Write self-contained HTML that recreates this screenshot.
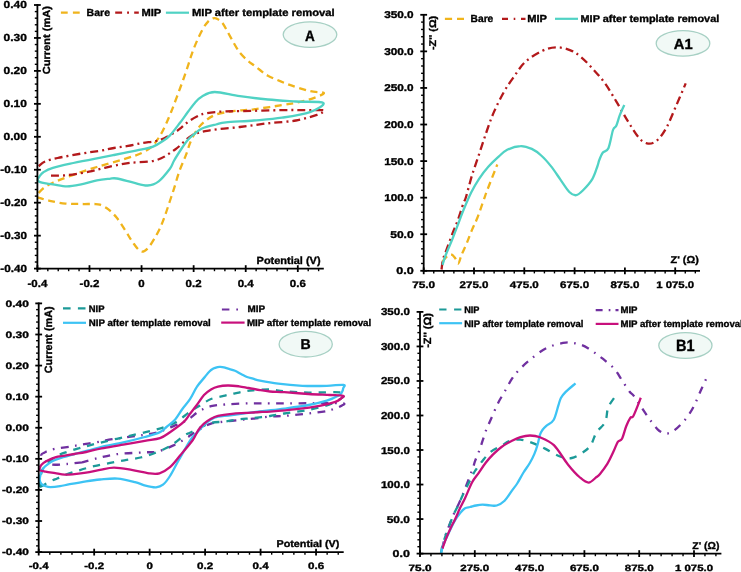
<!DOCTYPE html>
<html><head><meta charset="utf-8"><style>
html,body{margin:0;padding:0;background:#fff;width:741px;height:572px;overflow:hidden}
svg{display:block;will-change:transform;font-family:"Liberation Sans",sans-serif;font-weight:bold;fill:#000;text-rendering:geometricPrecision}
text{stroke:#000;stroke-width:0.35px}
</style></head><body>
<svg width="741" height="572" viewBox="0 0 741 572">
<path d="M38.7,193.0 C39.5,192.2 41.0,189.9 43.4,188.2 C45.8,186.5 47.9,184.9 52.9,182.7 C57.9,180.5 66.0,177.4 73.3,174.8 C80.6,172.2 88.5,169.6 96.9,167.0 C105.4,164.4 116.5,161.4 124.0,159.1 C131.5,156.8 137.2,155.2 142.0,152.9 C146.8,150.6 150.0,148.2 153.1,145.2 C156.2,142.2 158.3,138.3 160.5,134.8 C162.7,131.3 164.2,127.8 166.0,124.0 C167.8,120.2 169.4,116.3 171.2,111.8 C173.0,107.3 174.8,102.4 176.8,97.1 C178.8,91.8 181.1,85.5 183.1,80.0 C185.1,74.5 187.1,68.3 188.6,63.8 C190.1,59.3 190.8,56.7 192.2,52.8 C193.6,48.9 195.3,44.7 197.1,40.6 C198.9,36.5 201.4,31.5 203.2,28.3 C205.0,25.1 206.5,23.3 208.1,21.6 C209.7,19.9 211.4,18.7 213.0,18.3 C214.6,17.9 216.3,18.3 217.9,19.2 C219.5,20.1 221.2,21.4 222.8,23.5 C224.4,25.6 225.9,28.8 227.7,32.0 C229.5,35.2 231.8,39.5 233.8,43.0 C235.8,46.5 237.7,49.9 239.9,52.8 C242.2,55.7 245.1,58.2 247.3,60.2 C249.6,62.2 251.3,63.4 253.4,65.0 C255.5,66.6 257.6,68.2 260.0,70.0 C262.4,71.8 263.3,73.4 267.9,75.7 C272.5,78.0 280.5,81.5 287.5,84.1 C294.5,86.7 303.8,89.5 309.9,91.1 C315.9,92.6 324.7,91.8 323.8,93.4 C322.9,95.0 311.3,99.0 304.3,100.9 C297.3,102.9 290.3,103.7 281.9,105.1 C273.5,106.5 260.9,108.4 253.9,109.3 C246.9,110.2 244.0,110.0 240.0,110.4 C236.0,110.8 234.0,110.8 230.0,111.5 C226.0,112.2 220.0,113.1 216.0,114.6 C212.0,116.0 209.2,117.9 206.2,120.2 C203.2,122.5 200.4,125.1 197.8,128.6 C195.2,132.1 192.8,136.8 190.8,141.2 C188.8,145.6 187.8,150.2 185.9,155.1 C184.0,160.0 181.6,164.9 179.6,170.5 C177.6,176.1 175.7,183.3 174.1,188.4 C172.5,193.5 171.3,196.8 169.9,201.0 C168.5,205.2 167.1,209.6 165.7,213.6 C164.3,217.6 163.1,221.1 161.5,224.8 C159.9,228.5 158.2,232.1 155.9,236.0 C153.6,239.9 150.2,245.9 147.6,248.5 C145.0,251.1 143.2,252.5 140.6,251.3 C138.0,250.1 134.8,245.0 132.2,241.5 C129.6,238.0 127.8,234.2 125.2,230.3 C122.6,226.4 119.6,221.3 116.8,217.8 C114.0,214.3 111.2,211.6 108.4,209.4 C105.6,207.2 102.4,205.6 100.0,204.7 C97.6,203.8 96.9,204.1 93.8,204.0 C90.7,203.9 85.9,204.1 81.2,204.0 C76.5,203.9 70.8,204.1 65.5,203.6 C60.2,203.1 54.4,201.9 49.7,200.8 C45.0,199.8 39.5,197.9 37.5,197.3" fill="none" stroke="#F0B41C" stroke-width="2.3" stroke-dasharray="7 4.6" stroke-linejoin="round"/>
<path d="M38.7,166.2 C39.8,165.4 41.9,162.9 45.0,161.5 C48.1,160.1 51.6,159.3 57.6,158.0 C63.6,156.7 74.1,154.8 81.2,153.6 C88.3,152.4 94.5,151.7 100.0,150.8 C105.5,149.9 109.3,148.8 114.0,148.0 C118.7,147.2 123.3,146.7 128.0,145.9 C132.7,145.1 137.3,143.9 142.0,143.1 C146.7,142.3 152.3,141.8 156.0,141.0 C159.7,140.2 161.1,139.7 164.3,138.2 C167.6,136.7 172.7,133.6 175.5,131.9 C178.3,130.2 179.2,129.4 181.0,127.9 C182.8,126.4 184.0,124.9 186.6,123.0 C189.2,121.1 193.1,118.3 196.4,116.7 C199.7,115.1 201.8,114.1 206.2,113.2 C210.6,112.3 217.4,111.8 223.0,111.5 C228.6,111.2 230.2,111.3 240.0,111.1 C249.8,110.9 271.1,110.3 281.9,110.1 C292.7,109.9 298.1,110.1 305.0,110.1 C311.9,110.1 320.3,109.9 323.3,110.2 C326.3,110.5 323.7,111.3 322.8,112.0 C321.9,112.7 322.5,113.2 318.0,114.6 C313.5,116.0 304.2,119.0 295.9,120.5 C287.5,122.0 277.2,122.2 267.9,123.3 C258.6,124.4 249.2,125.9 239.9,127.0 C230.6,128.1 219.9,128.6 212.0,130.0 C204.1,131.4 198.4,132.0 192.3,135.2 C186.2,138.4 181.6,145.0 175.5,149.2 C169.4,153.4 163.8,158.0 155.9,160.3 C148.0,162.6 136.5,161.8 128.0,163.1 C119.5,164.3 111.3,166.4 104.8,167.8 C98.3,169.2 95.5,170.4 89.0,171.7 C82.5,172.9 72.4,174.7 65.5,175.3 C58.6,176.0 50.4,175.6 47.4,175.6" fill="none" stroke="#B3191B" stroke-width="2.3" stroke-dasharray="8 4 2 4" stroke-linejoin="round"/>
<path d="M39.5,176.4 C40.1,175.7 41.2,173.6 43.4,172.2 C45.6,170.8 47.9,169.3 52.9,167.8 C57.9,166.3 66.0,164.6 73.3,163.0 C80.6,161.4 90.1,159.6 96.9,158.3 C103.7,157.0 108.8,156.0 114.0,155.0 C119.2,154.0 123.3,153.1 128.0,152.2 C132.7,151.3 137.8,150.3 142.0,149.4 C146.2,148.5 149.6,148.0 153.1,146.6 C156.6,145.2 160.1,142.9 162.9,141.0 C165.7,139.1 167.2,138.4 170.0,135.4 C172.8,132.4 177.0,126.7 180.0,122.8 C183.0,118.9 185.5,115.1 188.0,111.8 C190.5,108.5 192.7,105.3 195.0,102.7 C197.3,100.1 198.7,98.2 202.0,96.4 C205.3,94.6 208.5,92.0 214.8,92.0 C221.1,92.0 231.1,95.0 239.9,96.2 C248.8,97.5 258.6,98.6 267.9,99.5 C277.2,100.4 286.7,100.9 295.9,101.5 C305.1,102.1 321.0,101.1 323.3,102.9 C325.6,104.7 316.8,109.6 309.9,112.1 C303.0,114.6 291.2,116.3 281.9,117.7 C272.6,119.1 263.2,119.7 253.9,120.5 C244.6,121.3 232.2,121.6 225.9,122.3 C219.6,123.0 220.0,123.5 216.0,124.5 C212.0,125.5 205.5,127.0 202.0,128.5 C198.5,130.0 197.3,131.6 195.0,133.5 C192.7,135.4 190.3,137.1 188.0,139.8 C185.7,142.5 183.3,146.0 181.0,149.5 C178.7,153.0 175.8,157.5 174.0,160.7 C172.2,163.9 172.5,165.3 169.9,168.7 C167.3,172.1 162.4,178.5 158.7,181.3 C155.0,184.1 151.8,185.3 147.6,185.5 C143.4,185.7 138.7,183.9 133.6,182.7 C128.5,181.5 120.8,179.2 116.8,178.5 C112.8,177.8 112.8,178.5 109.5,178.8 C106.2,179.1 101.6,179.4 96.9,180.3 C92.2,181.2 86.2,183.3 81.2,184.3 C76.2,185.3 71.7,186.3 67.0,186.3 C62.3,186.3 57.1,184.9 52.9,184.3 C48.7,183.7 44.4,183.4 41.9,182.7 C39.4,182.0 38.2,181.4 37.8,180.3 C37.4,179.2 39.2,177.1 39.5,176.4" fill="none" stroke="#50D2C4" stroke-width="2.3" stroke-linejoin="round"/>
<path d="M442.5,261.6 C443.2,260.7 445.6,257.6 447.0,256.4 C448.4,255.2 449.7,254.2 451.0,254.4 C452.3,254.6 453.7,256.2 454.9,257.7 C456.1,259.2 457.1,264.1 458.2,263.6 C459.3,263.2 460.1,258.4 461.5,255.0 C462.9,251.6 465.0,247.5 466.7,243.3 C468.4,239.2 470.1,234.3 471.9,230.1 C473.6,225.9 475.2,223.3 477.2,218.3 C479.2,213.3 482.0,204.7 483.7,200.0 C485.4,195.3 485.0,195.9 487.3,190.0 C489.6,184.1 495.6,168.8 497.3,164.5" fill="none" stroke="#F0B41C" stroke-width="2.3" stroke-dasharray="7 4.6" stroke-linejoin="round"/>
<path d="M441.5,269.5 C441.8,267.8 442.2,262.5 443.1,259.0 C444.0,255.5 445.5,252.7 447.0,248.5 C448.5,244.3 450.6,238.6 452.3,234.0 C454.1,229.4 455.6,226.1 457.5,221.0 C459.4,215.9 462.0,207.3 463.4,203.3 C464.8,199.3 464.6,201.7 466.0,197.0 C467.4,192.3 469.9,182.3 472.1,175.0 C474.4,167.7 477.1,160.3 479.5,153.0 C481.9,145.7 484.4,137.9 486.8,131.0 C489.2,124.1 491.3,117.9 494.2,111.4 C497.1,104.9 500.8,97.5 504.0,91.8 C507.2,86.1 510.2,82.0 513.7,77.1 C517.2,72.2 520.1,66.8 524.8,62.4 C529.5,58.0 536.7,53.5 541.9,51.0 C547.1,48.5 551.2,47.4 555.9,47.3 C560.6,47.1 565.7,48.5 569.9,50.1 C574.1,51.7 577.0,53.7 581.0,57.0 C585.0,60.3 589.6,65.4 593.6,69.8 C597.6,74.2 601.2,78.1 605.0,83.4 C608.8,88.7 612.6,95.3 616.4,101.6 C620.2,107.8 623.9,114.8 627.7,120.9 C631.5,127.0 635.7,134.2 639.1,138.0 C642.5,141.8 645.2,143.2 648.2,143.6 C651.2,144.0 654.3,142.8 657.3,140.2 C660.3,137.5 663.4,133.2 666.4,127.7 C669.4,122.2 672.3,114.7 675.5,107.3 C678.7,99.9 684.0,87.4 685.7,83.4" fill="none" stroke="#B3191B" stroke-width="2.3" stroke-dasharray="8 4 2 4" stroke-linejoin="round"/>
<path d="M442.5,264.9 C443.0,263.2 444.1,259.3 445.7,255.0 C447.3,250.7 450.1,244.8 452.3,239.3 C454.5,233.9 456.9,227.2 458.8,222.3 C460.7,217.4 461.4,215.0 463.5,210.0 C465.6,205.0 468.7,197.5 471.3,192.3 C473.9,187.2 476.1,183.3 478.9,179.1 C481.7,174.8 485.1,170.4 488.3,166.8 C491.5,163.2 494.7,160.2 497.8,157.4 C500.9,154.6 503.4,151.7 507.2,149.8 C511.0,147.9 516.4,146.2 520.5,146.1 C524.6,145.9 528.3,147.3 531.8,148.9 C535.2,150.5 538.1,152.7 541.2,155.5 C544.4,158.3 547.6,162.0 550.7,165.9 C553.9,169.8 557.0,174.7 560.1,179.1 C563.2,183.5 566.9,189.6 569.6,192.3 C572.3,195.0 574.0,195.5 576.2,195.2 C578.4,194.9 580.1,193.2 582.8,190.5 C585.5,187.8 589.8,183.2 592.3,179.1 C594.8,175.0 596.3,169.2 597.5,166.0 C598.7,162.8 598.4,162.2 599.3,160.0 C600.2,157.8 601.2,154.7 602.7,152.7 C604.2,150.7 606.7,152.0 608.4,148.2 C610.1,144.4 611.7,133.8 613.0,130.0 C614.3,126.2 615.3,128.0 616.4,125.5 C617.5,123.0 618.5,118.6 619.8,115.2 C621.1,111.8 623.5,106.7 624.3,105.0" fill="none" stroke="#50D2C4" stroke-width="2.3" stroke-linejoin="round"/>
<path d="M82.2,462.3 C79.6,462.6 71.9,463.6 66.8,464.0 C61.7,464.4 55.2,465.2 51.4,464.5 C47.6,463.8 45.7,461.6 44.0,460.0 C42.3,458.4 41.2,456.1 41.3,454.9 C41.4,453.6 43.7,453.1 44.7,452.5 C45.7,451.9 45.8,451.7 47.5,451.1 C49.2,450.5 51.4,449.6 55.2,448.8 C59.1,448.0 65.5,447.3 70.6,446.5 C75.7,445.7 80.8,444.7 86.0,443.8 C91.2,442.9 97.2,442.1 101.6,441.3 C106.0,440.5 106.6,440.1 112.4,439.2 C118.2,438.3 130.3,436.7 136.2,435.9 C142.1,435.1 144.0,435.0 148.0,434.3 C152.0,433.6 155.8,433.0 160.0,431.6 C164.2,430.2 168.9,428.0 173.5,426.1 C178.1,424.2 183.3,422.4 187.5,420.0 C191.7,417.6 194.5,414.0 198.4,411.7 C202.3,409.4 206.6,407.4 211.0,406.2 C215.4,405.0 219.2,405.0 225.0,404.5 C230.8,404.0 238.5,403.6 246.0,403.4 C253.5,403.2 257.7,403.4 270.0,403.4 C282.3,403.4 307.8,403.2 320.0,403.2 C332.2,403.2 339.5,402.8 343.0,403.3 C346.5,403.8 342.3,405.1 341.0,406.0 C339.7,406.9 337.4,407.7 335.0,408.5 C332.6,409.3 331.2,410.2 326.8,411.0 C322.4,411.8 315.7,412.7 308.6,413.5 C301.5,414.3 290.7,415.4 284.3,415.9 C277.9,416.4 275.2,416.1 270.0,416.6 C264.8,417.1 258.2,418.1 253.0,418.7 C247.8,419.3 243.7,419.6 239.0,420.1 C234.3,420.6 229.7,420.9 225.0,421.5 C220.3,422.1 215.0,422.4 211.0,423.6 C207.0,424.8 204.7,426.5 201.2,428.5 C197.7,430.5 192.3,434.0 190.0,435.5 C187.7,437.0 190.2,435.9 187.5,437.5 C184.8,439.1 178.5,443.1 173.5,445.4 C168.5,447.7 162.7,450.3 157.7,451.5 C152.7,452.7 150.4,452.0 143.7,452.4 C137.0,452.8 124.8,453.2 117.5,454.1 C110.2,455.0 105.9,456.2 100.0,457.6 C94.1,459.0 85.2,461.5 82.2,462.3" fill="none" stroke="#7030A0" stroke-width="2.3" stroke-dasharray="7.7 6.5 1.6 6.5" stroke-linejoin="round"/>
<path d="M39.8,487.1 C41.6,486.1 47.5,482.7 50.4,481.3 C53.3,479.9 54.8,479.5 57.2,478.5 C59.6,477.5 61.1,476.5 64.8,475.1 C68.5,473.7 74.4,471.8 79.3,470.3 C84.2,468.8 88.8,467.4 94.0,466.2 C99.2,465.0 105.0,463.9 110.2,462.9 C115.4,461.9 120.4,461.1 125.4,460.2 C130.5,459.3 135.5,458.8 140.5,457.5 C145.5,456.2 150.7,454.6 155.6,452.7 C160.5,450.8 165.3,449.0 170.0,446.2 C174.7,443.4 180.7,437.9 184.0,435.7 C187.3,433.4 187.1,434.1 190.0,432.7 C192.9,431.3 197.7,428.7 201.2,427.1 C204.7,425.5 207.0,423.8 211.0,422.9 C215.0,422.0 220.3,422.1 225.0,421.5 C229.7,420.9 234.3,420.0 239.0,419.4 C243.7,418.8 247.8,418.6 253.0,418.0 C258.2,417.4 264.8,416.8 270.0,416.0 C275.2,415.2 277.9,414.5 284.3,413.5 C290.7,412.5 300.5,411.5 308.6,409.8 C316.7,408.1 327.0,405.9 332.9,403.1 C338.8,400.3 347.9,394.8 343.8,393.0 C339.8,391.2 318.5,392.9 308.6,392.6 C298.7,392.3 290.7,391.8 284.3,391.3 C277.9,390.8 275.2,389.6 270.0,389.4 C264.8,389.2 257.4,390.0 253.3,390.3 C249.2,390.6 247.8,390.8 245.4,391.2 C243.0,391.6 241.2,392.1 238.9,392.6 C236.6,393.1 233.6,393.6 231.3,394.1 C229.0,394.6 228.4,394.8 225.0,395.6 C221.6,396.4 215.0,397.5 211.0,399.0 C207.0,400.5 204.7,402.7 201.2,404.8 C197.7,406.9 194.6,408.6 190.0,411.7 C185.4,414.8 179.8,420.4 173.5,423.5 C167.2,426.6 160.4,428.3 152.5,430.5 C144.6,432.7 134.9,434.6 126.2,436.6 C117.5,438.6 106.7,441.1 100.0,442.7 C93.3,444.3 89.5,445.4 86.0,446.3 C82.5,447.2 82.5,447.2 79.3,448.2 C76.1,449.1 70.8,450.6 66.8,452.0 C62.8,453.4 58.9,454.5 55.2,456.8 C51.5,459.1 46.9,463.5 44.7,466.0 C42.5,468.5 42.6,469.4 41.8,471.7 C41.0,474.0 40.3,477.4 40.0,480.0 C39.7,482.6 39.8,485.9 39.8,487.1" fill="none" stroke="#1C9A98" stroke-width="2.3" stroke-dasharray="7.3 7" stroke-linejoin="round"/>
<path d="M41.3,472.7 C41.7,471.9 42.7,469.3 43.7,467.9 C44.7,466.5 45.9,465.7 47.5,464.5 C49.1,463.3 51.0,461.8 53.3,460.7 C55.5,459.6 58.1,458.7 61.0,457.8 C63.9,456.9 67.4,456.1 70.6,455.2 C73.8,454.3 76.8,453.4 80.0,452.5 C83.2,451.6 86.4,450.9 90.0,450.0 C93.6,449.1 96.1,448.2 101.6,446.9 C107.1,445.6 116.0,444.0 123.2,442.4 C130.4,440.8 138.7,438.7 144.8,437.0 C150.9,435.3 156.4,433.8 160.0,432.1 C163.6,430.4 164.0,429.1 166.5,427.0 C169.0,424.9 172.5,422.5 175.2,419.5 C177.8,416.5 179.9,412.4 182.4,409.0 C184.9,405.6 187.6,402.9 190.0,399.2 C192.4,395.5 194.5,390.3 197.0,386.6 C199.5,382.9 203.0,379.3 205.0,376.8 C207.0,374.3 207.8,373.1 209.2,371.7 C210.6,370.3 212.0,369.4 213.4,368.6 C214.8,367.8 216.4,367.4 217.6,367.1 C218.8,366.8 219.4,366.9 220.5,366.9 C221.6,366.9 222.6,367.0 223.9,367.3 C225.2,367.6 226.2,368.0 228.1,368.6 C229.9,369.2 232.8,369.9 235.0,370.8 C237.2,371.7 239.0,373.0 241.0,374.0 C243.0,375.0 245.0,376.2 247.0,377.0 C249.0,377.8 250.8,378.1 253.0,378.7 C255.2,379.3 255.8,379.9 260.0,380.7 C264.2,381.5 271.1,382.8 278.2,383.7 C285.3,384.6 294.4,385.4 302.5,385.8 C310.6,386.2 320.0,386.0 326.8,385.8 C333.6,385.6 340.8,384.5 343.5,384.9 C346.2,385.3 343.6,386.8 343.3,388.0 C343.1,389.2 342.7,390.8 342.0,392.0 C341.3,393.2 341.5,393.8 339.0,395.2 C336.5,396.6 331.9,399.1 326.8,400.7 C321.7,402.3 315.7,403.7 308.6,405.0 C301.5,406.3 292.4,407.5 284.3,408.6 C276.2,409.7 268.7,410.4 260.0,411.5 C251.3,412.6 239.0,414.1 232.0,415.0 C225.0,415.9 221.5,415.9 218.0,416.6 C214.5,417.3 213.3,418.0 211.0,419.4 C208.7,420.8 206.3,422.8 204.0,425.0 C201.7,427.2 199.2,430.3 197.0,432.7 C194.8,435.1 194.1,434.6 191.0,439.2 C187.9,443.8 182.2,454.1 178.7,460.2 C175.2,466.3 172.6,471.9 170.0,476.0 C167.4,480.1 165.3,482.8 163.0,484.7 C160.7,486.6 158.9,487.1 156.0,487.3 C153.1,487.5 149.0,486.5 145.5,485.6 C142.0,484.7 139.7,483.3 135.0,482.1 C130.3,480.9 123.3,479.0 117.5,478.6 C111.7,478.2 105.2,479.1 100.0,479.5 C94.8,479.9 91.0,480.5 86.0,481.3 C81.0,482.1 74.0,483.4 69.7,484.2 C65.4,485.0 63.2,485.7 60.0,486.2 C56.8,486.7 52.8,487.1 50.4,487.1 C48.0,487.1 47.0,486.7 45.6,486.2 C44.2,485.7 42.8,485.2 41.8,484.2 C40.8,483.2 40.0,481.8 39.8,480.4 C39.5,479.0 40.0,476.9 40.3,475.6 C40.5,474.3 41.1,473.2 41.3,472.7" fill="none" stroke="#3DC3F4" stroke-width="2.3" stroke-linejoin="round"/>
<path d="M39.8,467.9 C40.0,467.4 40.3,466.1 41.3,465.0 C42.3,463.9 43.3,462.9 45.6,461.6 C47.9,460.3 52.0,458.3 55.2,457.3 C58.4,456.3 61.6,456.2 64.8,455.6 C68.0,455.1 71.0,454.6 74.5,454.0 C78.0,453.4 81.5,452.9 86.0,452.0 C90.5,451.1 95.4,449.5 101.6,448.3 C107.8,447.1 116.0,445.9 123.2,444.6 C130.4,443.4 138.7,441.9 144.8,440.8 C150.9,439.7 155.8,439.5 160.0,438.1 C164.2,436.7 166.0,434.9 170.0,432.2 C174.0,429.5 180.7,424.8 184.0,421.7 C187.3,418.6 187.8,416.6 190.0,413.8 C192.2,411.0 194.7,407.9 197.0,404.8 C199.3,401.7 201.7,397.6 204.0,395.0 C206.3,392.4 208.7,390.8 211.0,389.4 C213.3,388.0 215.2,387.2 218.0,386.6 C220.8,386.0 224.3,385.6 227.8,385.5 C231.3,385.4 235.5,385.9 239.0,386.3 C242.5,386.7 245.2,387.4 248.7,388.0 C252.2,388.6 256.4,389.5 260.0,390.1 C263.6,390.7 265.9,391.1 270.0,391.5 C274.1,391.9 277.9,391.8 284.3,392.2 C290.7,392.6 301.0,393.5 308.6,394.0 C316.2,394.5 324.3,394.7 330.0,395.0 C335.7,395.3 341.1,395.3 343.0,395.8 C344.9,396.3 342.8,397.2 341.5,398.2 C340.2,399.2 338.8,400.7 335.3,401.9 C331.9,403.1 327.3,404.4 320.8,405.6 C314.3,406.8 305.0,408.2 296.5,409.2 C288.0,410.2 276.1,411.2 270.0,411.7 C263.9,412.2 264.0,411.8 260.0,412.0 C256.0,412.2 250.7,412.6 246.0,412.9 C241.3,413.2 236.7,413.3 232.0,413.8 C227.3,414.3 221.5,415.1 218.0,415.9 C214.5,416.7 213.3,417.4 211.0,418.7 C208.7,420.0 206.1,421.7 204.0,423.6 C201.9,425.5 200.3,427.3 198.4,430.0 C196.5,432.7 195.8,435.8 192.8,440.0 C189.8,444.2 184.3,450.5 180.5,455.0 C176.7,459.5 173.5,464.1 170.0,467.2 C166.5,470.2 163.0,472.3 159.5,473.3 C156.0,474.3 153.7,473.9 149.0,473.3 C144.3,472.7 137.3,470.8 131.5,469.9 C125.7,468.9 119.2,467.6 114.0,467.6 C108.8,467.6 104.7,469.0 100.0,469.9 C95.3,470.8 90.2,472.0 86.0,472.7 C81.8,473.4 78.0,473.8 74.5,474.1 C71.0,474.4 68.0,474.8 64.8,474.6 C61.6,474.5 58.4,473.7 55.2,473.2 C52.0,472.7 48.2,472.2 45.6,471.7 C43.0,471.2 40.8,470.9 39.8,470.3 C38.8,469.7 39.8,468.3 39.8,467.9" fill="none" stroke="#C8107C" stroke-width="2.3" stroke-linejoin="round"/>
<path d="M442.0,549.0 C442.5,547.0 443.8,541.0 445.0,537.0 C446.2,533.0 447.9,528.8 449.4,525.0 C450.9,521.2 452.3,517.3 453.8,514.0 C455.3,510.7 456.7,508.2 458.2,505.0 C459.7,501.8 460.3,500.8 462.6,495.0 C464.9,489.2 470.0,475.8 472.1,470.1 C474.2,464.4 474.0,464.0 475.2,460.7 C476.4,457.4 478.2,453.5 479.4,450.2 C480.6,446.9 481.6,443.9 482.6,440.7 C483.7,437.5 484.3,434.8 485.7,431.2 C487.1,427.6 488.9,423.7 491.0,419.0 C493.1,414.3 495.7,407.9 498.0,403.2 C500.3,398.5 502.7,395.1 505.0,391.0 C507.3,386.9 509.8,382.1 512.0,378.7 C514.2,375.3 515.2,373.9 518.1,370.9 C521.0,367.8 524.6,364.2 529.3,360.4 C534.0,356.6 540.2,351.2 546.3,348.2 C552.4,345.2 560.0,343.2 565.7,342.6 C571.4,342.0 576.2,343.5 580.3,344.6 C584.3,345.7 587.1,347.7 590.0,349.4 C592.9,351.1 595.1,353.1 597.6,355.0 C600.1,356.9 602.3,358.2 605.1,360.6 C607.9,363.0 611.8,365.8 614.6,369.1 C617.4,372.4 619.6,376.7 622.1,380.5 C624.6,384.3 627.6,389.1 629.7,391.8 C631.8,394.5 631.6,392.8 634.5,396.8 C637.4,400.8 643.2,410.3 647.1,415.7 C651.0,421.1 654.5,426.3 657.6,429.3 C660.8,432.3 663.2,433.3 666.0,433.5 C668.8,433.7 671.2,432.6 674.4,430.3 C677.5,428.0 681.8,423.7 684.9,419.9 C688.0,416.1 690.5,412.6 693.3,407.3 C696.1,402.1 699.2,393.8 701.7,388.4 C704.2,383.0 707.0,377.1 708.1,374.8" fill="none" stroke="#7030A0" stroke-width="2.3" stroke-dasharray="7.7 6.5 1.6 6.5" stroke-linejoin="round"/>
<path d="M440.9,553.5 C441.2,552.1 441.8,547.8 442.5,545.0 C443.2,542.2 444.0,540.3 445.2,536.9 C446.4,533.5 448.1,528.6 449.6,524.7 C451.1,520.8 452.5,517.0 454.0,513.7 C455.5,510.4 456.9,508.0 458.4,504.9 C459.9,501.8 460.4,500.1 462.8,495.0 C465.2,489.9 470.9,478.6 473.1,474.3 C475.4,470.0 474.7,471.4 476.3,469.1 C477.9,466.8 480.2,463.6 482.6,460.7 C485.0,457.8 487.4,454.5 490.5,452.0 C493.6,449.5 498.4,447.5 501.5,445.7 C504.6,443.9 506.2,442.2 509.3,441.2 C512.4,440.2 516.4,439.3 520.3,439.6 C524.2,439.9 528.7,441.6 532.9,443.2 C537.1,444.8 541.0,446.7 545.5,448.9 C550.0,451.1 555.6,455.0 560.0,456.5 C564.4,458.0 567.8,458.8 571.8,458.0 C575.8,457.2 580.9,453.7 584.1,451.5 C587.3,449.3 588.9,447.9 591.0,444.7 C593.1,441.5 594.1,436.1 596.5,432.3 C598.9,428.5 603.2,426.2 605.2,422.0 C607.2,417.8 606.5,411.7 608.3,407.3 C610.0,402.9 614.5,397.6 615.7,395.7" fill="none" stroke="#1C9A98" stroke-width="2.3" stroke-dasharray="7.3 7" stroke-linejoin="round"/>
<path d="M441.2,553.4 C441.5,552.1 441.8,549.0 443.0,545.7 C444.2,542.4 446.5,537.7 448.5,533.5 C450.5,529.3 453.1,523.8 455.1,520.3 C457.1,516.8 459.0,514.6 460.6,512.6 C462.2,510.6 463.4,509.1 465.0,508.2 C466.6,507.3 468.2,507.4 470.0,507.0 C471.8,506.6 473.9,505.9 476.0,505.5 C478.1,505.1 480.3,504.7 482.6,504.7 C484.9,504.7 487.6,505.2 490.0,505.3 C492.4,505.4 494.3,506.2 496.7,505.5 C499.1,504.8 502.0,503.4 504.6,500.8 C507.2,498.2 510.4,492.7 512.5,489.8 C514.6,486.9 515.4,486.4 517.2,483.5 C519.0,480.6 521.4,475.9 523.5,472.5 C525.6,469.1 528.0,466.1 529.8,463.0 C531.6,459.9 533.2,456.7 534.5,453.6 C535.8,450.5 536.8,447.4 537.7,444.2 C538.6,441.0 539.2,437.1 540.0,434.7 C540.8,432.3 541.4,431.5 542.4,430.0 C543.4,428.5 544.4,427.6 546.3,425.9 C548.2,424.2 551.6,423.4 553.6,420.0 C555.6,416.6 557.2,409.0 558.4,405.3 C559.6,401.6 559.7,400.2 560.9,398.0 C562.1,395.8 563.3,394.3 565.7,391.9 C568.1,389.5 573.9,384.8 575.5,383.4" fill="none" stroke="#3DC3F4" stroke-width="2.3" stroke-linejoin="round"/>
<path d="M442.4,548.5 C443.0,546.8 444.9,541.4 446.3,538.0 C447.7,534.6 449.2,531.1 450.7,528.0 C452.2,524.9 453.6,522.3 455.1,519.2 C456.6,516.1 457.9,512.8 459.5,509.3 C461.1,505.8 462.9,502.8 465.0,498.3 C467.1,493.8 469.8,486.7 472.0,482.5 C474.2,478.3 476.1,476.6 478.4,473.3 C480.7,470.0 483.2,466.0 485.7,462.8 C488.1,459.6 490.5,457.0 493.1,454.4 C495.7,451.8 498.4,449.3 501.5,447.0 C504.6,444.7 508.9,442.3 512.0,440.7 C515.1,439.1 517.4,438.0 520.4,437.1 C523.4,436.2 526.7,435.5 530.0,435.5 C533.3,435.5 536.0,435.7 540.0,437.3 C544.0,438.9 549.2,440.7 553.9,445.2 C558.5,449.7 563.5,459.0 567.9,464.4 C572.2,469.8 576.5,474.5 580.0,477.5 C583.5,480.5 585.9,482.7 588.6,482.6 C591.4,482.5 594.6,478.4 596.5,477.0 C598.4,475.6 598.2,476.1 600.0,473.9 C601.8,471.7 605.0,467.7 607.3,463.9 C609.6,460.1 611.9,455.0 613.6,451.3 C615.4,447.6 616.4,444.0 617.8,441.9 C619.2,439.8 620.6,441.3 622.0,438.7 C623.4,436.1 624.8,429.7 626.2,426.2 C627.6,422.7 629.1,419.6 630.3,417.8 C631.5,416.1 631.8,419.0 633.5,415.7 C635.2,412.4 639.6,400.8 640.8,397.8" fill="none" stroke="#C8107C" stroke-width="2.3" stroke-linejoin="round"/>
<line x1="37.40" y1="4.10" x2="37.40" y2="269.50" stroke="#000" stroke-width="1.8" stroke-linecap="butt"/>
<line x1="34.00" y1="5.00" x2="40.80" y2="5.00" stroke="#000" stroke-width="1.8" stroke-linecap="butt"/>
<line x1="34.80" y1="11.59" x2="37.40" y2="11.59" stroke="#000" stroke-width="1.4" stroke-linecap="butt"/>
<line x1="34.80" y1="18.18" x2="37.40" y2="18.18" stroke="#000" stroke-width="1.4" stroke-linecap="butt"/>
<line x1="34.80" y1="24.77" x2="37.40" y2="24.77" stroke="#000" stroke-width="1.4" stroke-linecap="butt"/>
<line x1="34.80" y1="31.36" x2="37.40" y2="31.36" stroke="#000" stroke-width="1.4" stroke-linecap="butt"/>
<line x1="34.00" y1="37.95" x2="40.80" y2="37.95" stroke="#000" stroke-width="1.8" stroke-linecap="butt"/>
<line x1="34.80" y1="44.54" x2="37.40" y2="44.54" stroke="#000" stroke-width="1.4" stroke-linecap="butt"/>
<line x1="34.80" y1="51.13" x2="37.40" y2="51.13" stroke="#000" stroke-width="1.4" stroke-linecap="butt"/>
<line x1="34.80" y1="57.72" x2="37.40" y2="57.72" stroke="#000" stroke-width="1.4" stroke-linecap="butt"/>
<line x1="34.80" y1="64.31" x2="37.40" y2="64.31" stroke="#000" stroke-width="1.4" stroke-linecap="butt"/>
<line x1="34.00" y1="70.90" x2="40.80" y2="70.90" stroke="#000" stroke-width="1.8" stroke-linecap="butt"/>
<line x1="34.80" y1="77.49" x2="37.40" y2="77.49" stroke="#000" stroke-width="1.4" stroke-linecap="butt"/>
<line x1="34.80" y1="84.08" x2="37.40" y2="84.08" stroke="#000" stroke-width="1.4" stroke-linecap="butt"/>
<line x1="34.80" y1="90.67" x2="37.40" y2="90.67" stroke="#000" stroke-width="1.4" stroke-linecap="butt"/>
<line x1="34.80" y1="97.26" x2="37.40" y2="97.26" stroke="#000" stroke-width="1.4" stroke-linecap="butt"/>
<line x1="34.00" y1="103.85" x2="40.80" y2="103.85" stroke="#000" stroke-width="1.8" stroke-linecap="butt"/>
<line x1="34.80" y1="110.44" x2="37.40" y2="110.44" stroke="#000" stroke-width="1.4" stroke-linecap="butt"/>
<line x1="34.80" y1="117.03" x2="37.40" y2="117.03" stroke="#000" stroke-width="1.4" stroke-linecap="butt"/>
<line x1="34.80" y1="123.62" x2="37.40" y2="123.62" stroke="#000" stroke-width="1.4" stroke-linecap="butt"/>
<line x1="34.80" y1="130.21" x2="37.40" y2="130.21" stroke="#000" stroke-width="1.4" stroke-linecap="butt"/>
<line x1="34.00" y1="136.80" x2="40.80" y2="136.80" stroke="#000" stroke-width="1.8" stroke-linecap="butt"/>
<line x1="34.80" y1="143.39" x2="37.40" y2="143.39" stroke="#000" stroke-width="1.4" stroke-linecap="butt"/>
<line x1="34.80" y1="149.98" x2="37.40" y2="149.98" stroke="#000" stroke-width="1.4" stroke-linecap="butt"/>
<line x1="34.80" y1="156.57" x2="37.40" y2="156.57" stroke="#000" stroke-width="1.4" stroke-linecap="butt"/>
<line x1="34.80" y1="163.16" x2="37.40" y2="163.16" stroke="#000" stroke-width="1.4" stroke-linecap="butt"/>
<line x1="34.00" y1="169.75" x2="40.80" y2="169.75" stroke="#000" stroke-width="1.8" stroke-linecap="butt"/>
<line x1="34.80" y1="176.34" x2="37.40" y2="176.34" stroke="#000" stroke-width="1.4" stroke-linecap="butt"/>
<line x1="34.80" y1="182.93" x2="37.40" y2="182.93" stroke="#000" stroke-width="1.4" stroke-linecap="butt"/>
<line x1="34.80" y1="189.52" x2="37.40" y2="189.52" stroke="#000" stroke-width="1.4" stroke-linecap="butt"/>
<line x1="34.80" y1="196.11" x2="37.40" y2="196.11" stroke="#000" stroke-width="1.4" stroke-linecap="butt"/>
<line x1="34.00" y1="202.70" x2="40.80" y2="202.70" stroke="#000" stroke-width="1.8" stroke-linecap="butt"/>
<line x1="34.80" y1="209.29" x2="37.40" y2="209.29" stroke="#000" stroke-width="1.4" stroke-linecap="butt"/>
<line x1="34.80" y1="215.88" x2="37.40" y2="215.88" stroke="#000" stroke-width="1.4" stroke-linecap="butt"/>
<line x1="34.80" y1="222.47" x2="37.40" y2="222.47" stroke="#000" stroke-width="1.4" stroke-linecap="butt"/>
<line x1="34.80" y1="229.06" x2="37.40" y2="229.06" stroke="#000" stroke-width="1.4" stroke-linecap="butt"/>
<line x1="34.00" y1="235.65" x2="40.80" y2="235.65" stroke="#000" stroke-width="1.8" stroke-linecap="butt"/>
<line x1="34.80" y1="242.24" x2="37.40" y2="242.24" stroke="#000" stroke-width="1.4" stroke-linecap="butt"/>
<line x1="34.80" y1="248.83" x2="37.40" y2="248.83" stroke="#000" stroke-width="1.4" stroke-linecap="butt"/>
<line x1="34.80" y1="255.42" x2="37.40" y2="255.42" stroke="#000" stroke-width="1.4" stroke-linecap="butt"/>
<line x1="34.80" y1="262.01" x2="37.40" y2="262.01" stroke="#000" stroke-width="1.4" stroke-linecap="butt"/>
<line x1="34.00" y1="268.60" x2="40.80" y2="268.60" stroke="#000" stroke-width="1.8" stroke-linecap="butt"/>
<line x1="36.50" y1="268.60" x2="323.80" y2="268.60" stroke="#000" stroke-width="1.8" stroke-linecap="butt"/>
<line x1="37.40" y1="265.20" x2="37.40" y2="272.00" stroke="#000" stroke-width="1.8" stroke-linecap="butt"/>
<line x1="47.82" y1="268.60" x2="47.82" y2="271.20" stroke="#000" stroke-width="1.4" stroke-linecap="butt"/>
<line x1="58.23" y1="268.60" x2="58.23" y2="271.20" stroke="#000" stroke-width="1.4" stroke-linecap="butt"/>
<line x1="68.65" y1="268.60" x2="68.65" y2="271.20" stroke="#000" stroke-width="1.4" stroke-linecap="butt"/>
<line x1="79.06" y1="268.60" x2="79.06" y2="271.20" stroke="#000" stroke-width="1.4" stroke-linecap="butt"/>
<line x1="89.48" y1="265.20" x2="89.48" y2="272.00" stroke="#000" stroke-width="1.8" stroke-linecap="butt"/>
<line x1="99.90" y1="268.60" x2="99.90" y2="271.20" stroke="#000" stroke-width="1.4" stroke-linecap="butt"/>
<line x1="110.31" y1="268.60" x2="110.31" y2="271.20" stroke="#000" stroke-width="1.4" stroke-linecap="butt"/>
<line x1="120.73" y1="268.60" x2="120.73" y2="271.20" stroke="#000" stroke-width="1.4" stroke-linecap="butt"/>
<line x1="131.14" y1="268.60" x2="131.14" y2="271.20" stroke="#000" stroke-width="1.4" stroke-linecap="butt"/>
<line x1="141.56" y1="265.20" x2="141.56" y2="272.00" stroke="#000" stroke-width="1.8" stroke-linecap="butt"/>
<line x1="151.98" y1="268.60" x2="151.98" y2="271.20" stroke="#000" stroke-width="1.4" stroke-linecap="butt"/>
<line x1="162.39" y1="268.60" x2="162.39" y2="271.20" stroke="#000" stroke-width="1.4" stroke-linecap="butt"/>
<line x1="172.81" y1="268.60" x2="172.81" y2="271.20" stroke="#000" stroke-width="1.4" stroke-linecap="butt"/>
<line x1="183.22" y1="268.60" x2="183.22" y2="271.20" stroke="#000" stroke-width="1.4" stroke-linecap="butt"/>
<line x1="193.64" y1="265.20" x2="193.64" y2="272.00" stroke="#000" stroke-width="1.8" stroke-linecap="butt"/>
<line x1="204.06" y1="268.60" x2="204.06" y2="271.20" stroke="#000" stroke-width="1.4" stroke-linecap="butt"/>
<line x1="214.47" y1="268.60" x2="214.47" y2="271.20" stroke="#000" stroke-width="1.4" stroke-linecap="butt"/>
<line x1="224.89" y1="268.60" x2="224.89" y2="271.20" stroke="#000" stroke-width="1.4" stroke-linecap="butt"/>
<line x1="235.30" y1="268.60" x2="235.30" y2="271.20" stroke="#000" stroke-width="1.4" stroke-linecap="butt"/>
<line x1="245.72" y1="265.20" x2="245.72" y2="272.00" stroke="#000" stroke-width="1.8" stroke-linecap="butt"/>
<line x1="256.14" y1="268.60" x2="256.14" y2="271.20" stroke="#000" stroke-width="1.4" stroke-linecap="butt"/>
<line x1="266.55" y1="268.60" x2="266.55" y2="271.20" stroke="#000" stroke-width="1.4" stroke-linecap="butt"/>
<line x1="276.97" y1="268.60" x2="276.97" y2="271.20" stroke="#000" stroke-width="1.4" stroke-linecap="butt"/>
<line x1="287.38" y1="268.60" x2="287.38" y2="271.20" stroke="#000" stroke-width="1.4" stroke-linecap="butt"/>
<line x1="297.80" y1="265.20" x2="297.80" y2="272.00" stroke="#000" stroke-width="1.8" stroke-linecap="butt"/>
<line x1="308.22" y1="268.60" x2="308.22" y2="271.20" stroke="#000" stroke-width="1.4" stroke-linecap="butt"/>
<line x1="318.63" y1="268.60" x2="318.63" y2="271.20" stroke="#000" stroke-width="1.4" stroke-linecap="butt"/>
<line x1="423.70" y1="13.90" x2="423.70" y2="271.70" stroke="#000" stroke-width="1.8" stroke-linecap="butt"/>
<line x1="420.30" y1="14.80" x2="427.10" y2="14.80" stroke="#000" stroke-width="1.8" stroke-linecap="butt"/>
<line x1="421.10" y1="22.11" x2="423.70" y2="22.11" stroke="#000" stroke-width="1.4" stroke-linecap="butt"/>
<line x1="421.10" y1="29.43" x2="423.70" y2="29.43" stroke="#000" stroke-width="1.4" stroke-linecap="butt"/>
<line x1="421.10" y1="36.74" x2="423.70" y2="36.74" stroke="#000" stroke-width="1.4" stroke-linecap="butt"/>
<line x1="421.10" y1="44.06" x2="423.70" y2="44.06" stroke="#000" stroke-width="1.4" stroke-linecap="butt"/>
<line x1="420.30" y1="51.37" x2="427.10" y2="51.37" stroke="#000" stroke-width="1.8" stroke-linecap="butt"/>
<line x1="421.10" y1="58.69" x2="423.70" y2="58.69" stroke="#000" stroke-width="1.4" stroke-linecap="butt"/>
<line x1="421.10" y1="66.00" x2="423.70" y2="66.00" stroke="#000" stroke-width="1.4" stroke-linecap="butt"/>
<line x1="421.10" y1="73.31" x2="423.70" y2="73.31" stroke="#000" stroke-width="1.4" stroke-linecap="butt"/>
<line x1="421.10" y1="80.63" x2="423.70" y2="80.63" stroke="#000" stroke-width="1.4" stroke-linecap="butt"/>
<line x1="420.30" y1="87.94" x2="427.10" y2="87.94" stroke="#000" stroke-width="1.8" stroke-linecap="butt"/>
<line x1="421.10" y1="95.26" x2="423.70" y2="95.26" stroke="#000" stroke-width="1.4" stroke-linecap="butt"/>
<line x1="421.10" y1="102.57" x2="423.70" y2="102.57" stroke="#000" stroke-width="1.4" stroke-linecap="butt"/>
<line x1="421.10" y1="109.89" x2="423.70" y2="109.89" stroke="#000" stroke-width="1.4" stroke-linecap="butt"/>
<line x1="421.10" y1="117.20" x2="423.70" y2="117.20" stroke="#000" stroke-width="1.4" stroke-linecap="butt"/>
<line x1="420.30" y1="124.51" x2="427.10" y2="124.51" stroke="#000" stroke-width="1.8" stroke-linecap="butt"/>
<line x1="421.10" y1="131.83" x2="423.70" y2="131.83" stroke="#000" stroke-width="1.4" stroke-linecap="butt"/>
<line x1="421.10" y1="139.14" x2="423.70" y2="139.14" stroke="#000" stroke-width="1.4" stroke-linecap="butt"/>
<line x1="421.10" y1="146.46" x2="423.70" y2="146.46" stroke="#000" stroke-width="1.4" stroke-linecap="butt"/>
<line x1="421.10" y1="153.77" x2="423.70" y2="153.77" stroke="#000" stroke-width="1.4" stroke-linecap="butt"/>
<line x1="420.30" y1="161.09" x2="427.10" y2="161.09" stroke="#000" stroke-width="1.8" stroke-linecap="butt"/>
<line x1="421.10" y1="168.40" x2="423.70" y2="168.40" stroke="#000" stroke-width="1.4" stroke-linecap="butt"/>
<line x1="421.10" y1="175.71" x2="423.70" y2="175.71" stroke="#000" stroke-width="1.4" stroke-linecap="butt"/>
<line x1="421.10" y1="183.03" x2="423.70" y2="183.03" stroke="#000" stroke-width="1.4" stroke-linecap="butt"/>
<line x1="421.10" y1="190.34" x2="423.70" y2="190.34" stroke="#000" stroke-width="1.4" stroke-linecap="butt"/>
<line x1="420.30" y1="197.66" x2="427.10" y2="197.66" stroke="#000" stroke-width="1.8" stroke-linecap="butt"/>
<line x1="421.10" y1="204.97" x2="423.70" y2="204.97" stroke="#000" stroke-width="1.4" stroke-linecap="butt"/>
<line x1="421.10" y1="212.29" x2="423.70" y2="212.29" stroke="#000" stroke-width="1.4" stroke-linecap="butt"/>
<line x1="421.10" y1="219.60" x2="423.70" y2="219.60" stroke="#000" stroke-width="1.4" stroke-linecap="butt"/>
<line x1="421.10" y1="226.91" x2="423.70" y2="226.91" stroke="#000" stroke-width="1.4" stroke-linecap="butt"/>
<line x1="420.30" y1="234.23" x2="427.10" y2="234.23" stroke="#000" stroke-width="1.8" stroke-linecap="butt"/>
<line x1="421.10" y1="241.54" x2="423.70" y2="241.54" stroke="#000" stroke-width="1.4" stroke-linecap="butt"/>
<line x1="421.10" y1="248.86" x2="423.70" y2="248.86" stroke="#000" stroke-width="1.4" stroke-linecap="butt"/>
<line x1="421.10" y1="256.17" x2="423.70" y2="256.17" stroke="#000" stroke-width="1.4" stroke-linecap="butt"/>
<line x1="421.10" y1="263.49" x2="423.70" y2="263.49" stroke="#000" stroke-width="1.4" stroke-linecap="butt"/>
<line x1="420.30" y1="270.80" x2="427.10" y2="270.80" stroke="#000" stroke-width="1.8" stroke-linecap="butt"/>
<line x1="422.80" y1="270.80" x2="700.00" y2="270.80" stroke="#000" stroke-width="1.8" stroke-linecap="butt"/>
<line x1="423.70" y1="267.40" x2="423.70" y2="274.20" stroke="#000" stroke-width="1.8" stroke-linecap="butt"/>
<line x1="433.76" y1="270.80" x2="433.76" y2="273.40" stroke="#000" stroke-width="1.4" stroke-linecap="butt"/>
<line x1="443.82" y1="270.80" x2="443.82" y2="273.40" stroke="#000" stroke-width="1.4" stroke-linecap="butt"/>
<line x1="453.88" y1="270.80" x2="453.88" y2="273.40" stroke="#000" stroke-width="1.4" stroke-linecap="butt"/>
<line x1="463.94" y1="270.80" x2="463.94" y2="273.40" stroke="#000" stroke-width="1.4" stroke-linecap="butt"/>
<line x1="474.00" y1="267.40" x2="474.00" y2="274.20" stroke="#000" stroke-width="1.8" stroke-linecap="butt"/>
<line x1="484.06" y1="270.80" x2="484.06" y2="273.40" stroke="#000" stroke-width="1.4" stroke-linecap="butt"/>
<line x1="494.12" y1="270.80" x2="494.12" y2="273.40" stroke="#000" stroke-width="1.4" stroke-linecap="butt"/>
<line x1="504.18" y1="270.80" x2="504.18" y2="273.40" stroke="#000" stroke-width="1.4" stroke-linecap="butt"/>
<line x1="514.24" y1="270.80" x2="514.24" y2="273.40" stroke="#000" stroke-width="1.4" stroke-linecap="butt"/>
<line x1="524.30" y1="267.40" x2="524.30" y2="274.20" stroke="#000" stroke-width="1.8" stroke-linecap="butt"/>
<line x1="534.36" y1="270.80" x2="534.36" y2="273.40" stroke="#000" stroke-width="1.4" stroke-linecap="butt"/>
<line x1="544.42" y1="270.80" x2="544.42" y2="273.40" stroke="#000" stroke-width="1.4" stroke-linecap="butt"/>
<line x1="554.48" y1="270.80" x2="554.48" y2="273.40" stroke="#000" stroke-width="1.4" stroke-linecap="butt"/>
<line x1="564.54" y1="270.80" x2="564.54" y2="273.40" stroke="#000" stroke-width="1.4" stroke-linecap="butt"/>
<line x1="574.60" y1="267.40" x2="574.60" y2="274.20" stroke="#000" stroke-width="1.8" stroke-linecap="butt"/>
<line x1="584.66" y1="270.80" x2="584.66" y2="273.40" stroke="#000" stroke-width="1.4" stroke-linecap="butt"/>
<line x1="594.72" y1="270.80" x2="594.72" y2="273.40" stroke="#000" stroke-width="1.4" stroke-linecap="butt"/>
<line x1="604.78" y1="270.80" x2="604.78" y2="273.40" stroke="#000" stroke-width="1.4" stroke-linecap="butt"/>
<line x1="614.84" y1="270.80" x2="614.84" y2="273.40" stroke="#000" stroke-width="1.4" stroke-linecap="butt"/>
<line x1="624.90" y1="267.40" x2="624.90" y2="274.20" stroke="#000" stroke-width="1.8" stroke-linecap="butt"/>
<line x1="634.96" y1="270.80" x2="634.96" y2="273.40" stroke="#000" stroke-width="1.4" stroke-linecap="butt"/>
<line x1="645.02" y1="270.80" x2="645.02" y2="273.40" stroke="#000" stroke-width="1.4" stroke-linecap="butt"/>
<line x1="655.08" y1="270.80" x2="655.08" y2="273.40" stroke="#000" stroke-width="1.4" stroke-linecap="butt"/>
<line x1="665.14" y1="270.80" x2="665.14" y2="273.40" stroke="#000" stroke-width="1.4" stroke-linecap="butt"/>
<line x1="675.20" y1="267.40" x2="675.20" y2="274.20" stroke="#000" stroke-width="1.8" stroke-linecap="butt"/>
<line x1="685.26" y1="270.80" x2="685.26" y2="273.40" stroke="#000" stroke-width="1.4" stroke-linecap="butt"/>
<line x1="695.32" y1="270.80" x2="695.32" y2="273.40" stroke="#000" stroke-width="1.4" stroke-linecap="butt"/>
<line x1="38.70" y1="302.50" x2="38.70" y2="553.00" stroke="#000" stroke-width="1.8" stroke-linecap="butt"/>
<line x1="35.30" y1="303.40" x2="42.10" y2="303.40" stroke="#000" stroke-width="1.8" stroke-linecap="butt"/>
<line x1="36.10" y1="309.62" x2="38.70" y2="309.62" stroke="#000" stroke-width="1.4" stroke-linecap="butt"/>
<line x1="36.10" y1="315.83" x2="38.70" y2="315.83" stroke="#000" stroke-width="1.4" stroke-linecap="butt"/>
<line x1="36.10" y1="322.05" x2="38.70" y2="322.05" stroke="#000" stroke-width="1.4" stroke-linecap="butt"/>
<line x1="36.10" y1="328.27" x2="38.70" y2="328.27" stroke="#000" stroke-width="1.4" stroke-linecap="butt"/>
<line x1="35.30" y1="334.49" x2="42.10" y2="334.49" stroke="#000" stroke-width="1.8" stroke-linecap="butt"/>
<line x1="36.10" y1="340.70" x2="38.70" y2="340.70" stroke="#000" stroke-width="1.4" stroke-linecap="butt"/>
<line x1="36.10" y1="346.92" x2="38.70" y2="346.92" stroke="#000" stroke-width="1.4" stroke-linecap="butt"/>
<line x1="36.10" y1="353.14" x2="38.70" y2="353.14" stroke="#000" stroke-width="1.4" stroke-linecap="butt"/>
<line x1="36.10" y1="359.36" x2="38.70" y2="359.36" stroke="#000" stroke-width="1.4" stroke-linecap="butt"/>
<line x1="35.30" y1="365.57" x2="42.10" y2="365.57" stroke="#000" stroke-width="1.8" stroke-linecap="butt"/>
<line x1="36.10" y1="371.79" x2="38.70" y2="371.79" stroke="#000" stroke-width="1.4" stroke-linecap="butt"/>
<line x1="36.10" y1="378.01" x2="38.70" y2="378.01" stroke="#000" stroke-width="1.4" stroke-linecap="butt"/>
<line x1="36.10" y1="384.23" x2="38.70" y2="384.23" stroke="#000" stroke-width="1.4" stroke-linecap="butt"/>
<line x1="36.10" y1="390.44" x2="38.70" y2="390.44" stroke="#000" stroke-width="1.4" stroke-linecap="butt"/>
<line x1="35.30" y1="396.66" x2="42.10" y2="396.66" stroke="#000" stroke-width="1.8" stroke-linecap="butt"/>
<line x1="36.10" y1="402.88" x2="38.70" y2="402.88" stroke="#000" stroke-width="1.4" stroke-linecap="butt"/>
<line x1="36.10" y1="409.10" x2="38.70" y2="409.10" stroke="#000" stroke-width="1.4" stroke-linecap="butt"/>
<line x1="36.10" y1="415.32" x2="38.70" y2="415.32" stroke="#000" stroke-width="1.4" stroke-linecap="butt"/>
<line x1="36.10" y1="421.53" x2="38.70" y2="421.53" stroke="#000" stroke-width="1.4" stroke-linecap="butt"/>
<line x1="35.30" y1="427.75" x2="42.10" y2="427.75" stroke="#000" stroke-width="1.8" stroke-linecap="butt"/>
<line x1="36.10" y1="433.97" x2="38.70" y2="433.97" stroke="#000" stroke-width="1.4" stroke-linecap="butt"/>
<line x1="36.10" y1="440.19" x2="38.70" y2="440.19" stroke="#000" stroke-width="1.4" stroke-linecap="butt"/>
<line x1="36.10" y1="446.40" x2="38.70" y2="446.40" stroke="#000" stroke-width="1.4" stroke-linecap="butt"/>
<line x1="36.10" y1="452.62" x2="38.70" y2="452.62" stroke="#000" stroke-width="1.4" stroke-linecap="butt"/>
<line x1="35.30" y1="458.84" x2="42.10" y2="458.84" stroke="#000" stroke-width="1.8" stroke-linecap="butt"/>
<line x1="36.10" y1="465.05" x2="38.70" y2="465.05" stroke="#000" stroke-width="1.4" stroke-linecap="butt"/>
<line x1="36.10" y1="471.27" x2="38.70" y2="471.27" stroke="#000" stroke-width="1.4" stroke-linecap="butt"/>
<line x1="36.10" y1="477.49" x2="38.70" y2="477.49" stroke="#000" stroke-width="1.4" stroke-linecap="butt"/>
<line x1="36.10" y1="483.71" x2="38.70" y2="483.71" stroke="#000" stroke-width="1.4" stroke-linecap="butt"/>
<line x1="35.30" y1="489.93" x2="42.10" y2="489.93" stroke="#000" stroke-width="1.8" stroke-linecap="butt"/>
<line x1="36.10" y1="496.14" x2="38.70" y2="496.14" stroke="#000" stroke-width="1.4" stroke-linecap="butt"/>
<line x1="36.10" y1="502.36" x2="38.70" y2="502.36" stroke="#000" stroke-width="1.4" stroke-linecap="butt"/>
<line x1="36.10" y1="508.58" x2="38.70" y2="508.58" stroke="#000" stroke-width="1.4" stroke-linecap="butt"/>
<line x1="36.10" y1="514.80" x2="38.70" y2="514.80" stroke="#000" stroke-width="1.4" stroke-linecap="butt"/>
<line x1="35.30" y1="521.01" x2="42.10" y2="521.01" stroke="#000" stroke-width="1.8" stroke-linecap="butt"/>
<line x1="36.10" y1="527.23" x2="38.70" y2="527.23" stroke="#000" stroke-width="1.4" stroke-linecap="butt"/>
<line x1="36.10" y1="533.45" x2="38.70" y2="533.45" stroke="#000" stroke-width="1.4" stroke-linecap="butt"/>
<line x1="36.10" y1="539.67" x2="38.70" y2="539.67" stroke="#000" stroke-width="1.4" stroke-linecap="butt"/>
<line x1="36.10" y1="545.88" x2="38.70" y2="545.88" stroke="#000" stroke-width="1.4" stroke-linecap="butt"/>
<line x1="35.30" y1="552.10" x2="42.10" y2="552.10" stroke="#000" stroke-width="1.8" stroke-linecap="butt"/>
<line x1="37.80" y1="552.10" x2="343.70" y2="552.10" stroke="#000" stroke-width="1.8" stroke-linecap="butt"/>
<line x1="38.70" y1="548.70" x2="38.70" y2="555.50" stroke="#000" stroke-width="1.8" stroke-linecap="butt"/>
<line x1="49.79" y1="552.10" x2="49.79" y2="554.70" stroke="#000" stroke-width="1.4" stroke-linecap="butt"/>
<line x1="60.89" y1="552.10" x2="60.89" y2="554.70" stroke="#000" stroke-width="1.4" stroke-linecap="butt"/>
<line x1="71.98" y1="552.10" x2="71.98" y2="554.70" stroke="#000" stroke-width="1.4" stroke-linecap="butt"/>
<line x1="83.08" y1="552.10" x2="83.08" y2="554.70" stroke="#000" stroke-width="1.4" stroke-linecap="butt"/>
<line x1="94.17" y1="548.70" x2="94.17" y2="555.50" stroke="#000" stroke-width="1.8" stroke-linecap="butt"/>
<line x1="105.26" y1="552.10" x2="105.26" y2="554.70" stroke="#000" stroke-width="1.4" stroke-linecap="butt"/>
<line x1="116.36" y1="552.10" x2="116.36" y2="554.70" stroke="#000" stroke-width="1.4" stroke-linecap="butt"/>
<line x1="127.45" y1="552.10" x2="127.45" y2="554.70" stroke="#000" stroke-width="1.4" stroke-linecap="butt"/>
<line x1="138.55" y1="552.10" x2="138.55" y2="554.70" stroke="#000" stroke-width="1.4" stroke-linecap="butt"/>
<line x1="149.64" y1="548.70" x2="149.64" y2="555.50" stroke="#000" stroke-width="1.8" stroke-linecap="butt"/>
<line x1="160.73" y1="552.10" x2="160.73" y2="554.70" stroke="#000" stroke-width="1.4" stroke-linecap="butt"/>
<line x1="171.83" y1="552.10" x2="171.83" y2="554.70" stroke="#000" stroke-width="1.4" stroke-linecap="butt"/>
<line x1="182.92" y1="552.10" x2="182.92" y2="554.70" stroke="#000" stroke-width="1.4" stroke-linecap="butt"/>
<line x1="194.02" y1="552.10" x2="194.02" y2="554.70" stroke="#000" stroke-width="1.4" stroke-linecap="butt"/>
<line x1="205.11" y1="548.70" x2="205.11" y2="555.50" stroke="#000" stroke-width="1.8" stroke-linecap="butt"/>
<line x1="216.20" y1="552.10" x2="216.20" y2="554.70" stroke="#000" stroke-width="1.4" stroke-linecap="butt"/>
<line x1="227.30" y1="552.10" x2="227.30" y2="554.70" stroke="#000" stroke-width="1.4" stroke-linecap="butt"/>
<line x1="238.39" y1="552.10" x2="238.39" y2="554.70" stroke="#000" stroke-width="1.4" stroke-linecap="butt"/>
<line x1="249.49" y1="552.10" x2="249.49" y2="554.70" stroke="#000" stroke-width="1.4" stroke-linecap="butt"/>
<line x1="260.58" y1="548.70" x2="260.58" y2="555.50" stroke="#000" stroke-width="1.8" stroke-linecap="butt"/>
<line x1="271.67" y1="552.10" x2="271.67" y2="554.70" stroke="#000" stroke-width="1.4" stroke-linecap="butt"/>
<line x1="282.77" y1="552.10" x2="282.77" y2="554.70" stroke="#000" stroke-width="1.4" stroke-linecap="butt"/>
<line x1="293.86" y1="552.10" x2="293.86" y2="554.70" stroke="#000" stroke-width="1.4" stroke-linecap="butt"/>
<line x1="304.96" y1="552.10" x2="304.96" y2="554.70" stroke="#000" stroke-width="1.4" stroke-linecap="butt"/>
<line x1="316.05" y1="548.70" x2="316.05" y2="555.50" stroke="#000" stroke-width="1.8" stroke-linecap="butt"/>
<line x1="327.14" y1="552.10" x2="327.14" y2="554.70" stroke="#000" stroke-width="1.4" stroke-linecap="butt"/>
<line x1="338.24" y1="552.10" x2="338.24" y2="554.70" stroke="#000" stroke-width="1.4" stroke-linecap="butt"/>
<line x1="420.00" y1="311.00" x2="420.00" y2="554.50" stroke="#000" stroke-width="1.8" stroke-linecap="butt"/>
<line x1="416.60" y1="311.90" x2="423.40" y2="311.90" stroke="#000" stroke-width="1.8" stroke-linecap="butt"/>
<line x1="417.40" y1="318.81" x2="420.00" y2="318.81" stroke="#000" stroke-width="1.4" stroke-linecap="butt"/>
<line x1="417.40" y1="325.71" x2="420.00" y2="325.71" stroke="#000" stroke-width="1.4" stroke-linecap="butt"/>
<line x1="417.40" y1="332.62" x2="420.00" y2="332.62" stroke="#000" stroke-width="1.4" stroke-linecap="butt"/>
<line x1="417.40" y1="339.52" x2="420.00" y2="339.52" stroke="#000" stroke-width="1.4" stroke-linecap="butt"/>
<line x1="416.60" y1="346.43" x2="423.40" y2="346.43" stroke="#000" stroke-width="1.8" stroke-linecap="butt"/>
<line x1="417.40" y1="353.33" x2="420.00" y2="353.33" stroke="#000" stroke-width="1.4" stroke-linecap="butt"/>
<line x1="417.40" y1="360.24" x2="420.00" y2="360.24" stroke="#000" stroke-width="1.4" stroke-linecap="butt"/>
<line x1="417.40" y1="367.15" x2="420.00" y2="367.15" stroke="#000" stroke-width="1.4" stroke-linecap="butt"/>
<line x1="417.40" y1="374.05" x2="420.00" y2="374.05" stroke="#000" stroke-width="1.4" stroke-linecap="butt"/>
<line x1="416.60" y1="380.96" x2="423.40" y2="380.96" stroke="#000" stroke-width="1.8" stroke-linecap="butt"/>
<line x1="417.40" y1="387.86" x2="420.00" y2="387.86" stroke="#000" stroke-width="1.4" stroke-linecap="butt"/>
<line x1="417.40" y1="394.77" x2="420.00" y2="394.77" stroke="#000" stroke-width="1.4" stroke-linecap="butt"/>
<line x1="417.40" y1="401.67" x2="420.00" y2="401.67" stroke="#000" stroke-width="1.4" stroke-linecap="butt"/>
<line x1="417.40" y1="408.58" x2="420.00" y2="408.58" stroke="#000" stroke-width="1.4" stroke-linecap="butt"/>
<line x1="416.60" y1="415.49" x2="423.40" y2="415.49" stroke="#000" stroke-width="1.8" stroke-linecap="butt"/>
<line x1="417.40" y1="422.39" x2="420.00" y2="422.39" stroke="#000" stroke-width="1.4" stroke-linecap="butt"/>
<line x1="417.40" y1="429.30" x2="420.00" y2="429.30" stroke="#000" stroke-width="1.4" stroke-linecap="butt"/>
<line x1="417.40" y1="436.20" x2="420.00" y2="436.20" stroke="#000" stroke-width="1.4" stroke-linecap="butt"/>
<line x1="417.40" y1="443.11" x2="420.00" y2="443.11" stroke="#000" stroke-width="1.4" stroke-linecap="butt"/>
<line x1="416.60" y1="450.01" x2="423.40" y2="450.01" stroke="#000" stroke-width="1.8" stroke-linecap="butt"/>
<line x1="417.40" y1="456.92" x2="420.00" y2="456.92" stroke="#000" stroke-width="1.4" stroke-linecap="butt"/>
<line x1="417.40" y1="463.83" x2="420.00" y2="463.83" stroke="#000" stroke-width="1.4" stroke-linecap="butt"/>
<line x1="417.40" y1="470.73" x2="420.00" y2="470.73" stroke="#000" stroke-width="1.4" stroke-linecap="butt"/>
<line x1="417.40" y1="477.64" x2="420.00" y2="477.64" stroke="#000" stroke-width="1.4" stroke-linecap="butt"/>
<line x1="416.60" y1="484.54" x2="423.40" y2="484.54" stroke="#000" stroke-width="1.8" stroke-linecap="butt"/>
<line x1="417.40" y1="491.45" x2="420.00" y2="491.45" stroke="#000" stroke-width="1.4" stroke-linecap="butt"/>
<line x1="417.40" y1="498.35" x2="420.00" y2="498.35" stroke="#000" stroke-width="1.4" stroke-linecap="butt"/>
<line x1="417.40" y1="505.26" x2="420.00" y2="505.26" stroke="#000" stroke-width="1.4" stroke-linecap="butt"/>
<line x1="417.40" y1="512.17" x2="420.00" y2="512.17" stroke="#000" stroke-width="1.4" stroke-linecap="butt"/>
<line x1="416.60" y1="519.07" x2="423.40" y2="519.07" stroke="#000" stroke-width="1.8" stroke-linecap="butt"/>
<line x1="417.40" y1="525.98" x2="420.00" y2="525.98" stroke="#000" stroke-width="1.4" stroke-linecap="butt"/>
<line x1="417.40" y1="532.88" x2="420.00" y2="532.88" stroke="#000" stroke-width="1.4" stroke-linecap="butt"/>
<line x1="417.40" y1="539.79" x2="420.00" y2="539.79" stroke="#000" stroke-width="1.4" stroke-linecap="butt"/>
<line x1="417.40" y1="546.69" x2="420.00" y2="546.69" stroke="#000" stroke-width="1.4" stroke-linecap="butt"/>
<line x1="416.60" y1="553.60" x2="423.40" y2="553.60" stroke="#000" stroke-width="1.8" stroke-linecap="butt"/>
<line x1="419.10" y1="553.60" x2="721.40" y2="553.60" stroke="#000" stroke-width="1.8" stroke-linecap="butt"/>
<line x1="420.00" y1="550.20" x2="420.00" y2="557.00" stroke="#000" stroke-width="1.8" stroke-linecap="butt"/>
<line x1="430.96" y1="553.60" x2="430.96" y2="556.20" stroke="#000" stroke-width="1.4" stroke-linecap="butt"/>
<line x1="441.92" y1="553.60" x2="441.92" y2="556.20" stroke="#000" stroke-width="1.4" stroke-linecap="butt"/>
<line x1="452.88" y1="553.60" x2="452.88" y2="556.20" stroke="#000" stroke-width="1.4" stroke-linecap="butt"/>
<line x1="463.84" y1="553.60" x2="463.84" y2="556.20" stroke="#000" stroke-width="1.4" stroke-linecap="butt"/>
<line x1="474.80" y1="550.20" x2="474.80" y2="557.00" stroke="#000" stroke-width="1.8" stroke-linecap="butt"/>
<line x1="485.76" y1="553.60" x2="485.76" y2="556.20" stroke="#000" stroke-width="1.4" stroke-linecap="butt"/>
<line x1="496.72" y1="553.60" x2="496.72" y2="556.20" stroke="#000" stroke-width="1.4" stroke-linecap="butt"/>
<line x1="507.68" y1="553.60" x2="507.68" y2="556.20" stroke="#000" stroke-width="1.4" stroke-linecap="butt"/>
<line x1="518.64" y1="553.60" x2="518.64" y2="556.20" stroke="#000" stroke-width="1.4" stroke-linecap="butt"/>
<line x1="529.60" y1="550.20" x2="529.60" y2="557.00" stroke="#000" stroke-width="1.8" stroke-linecap="butt"/>
<line x1="540.56" y1="553.60" x2="540.56" y2="556.20" stroke="#000" stroke-width="1.4" stroke-linecap="butt"/>
<line x1="551.52" y1="553.60" x2="551.52" y2="556.20" stroke="#000" stroke-width="1.4" stroke-linecap="butt"/>
<line x1="562.48" y1="553.60" x2="562.48" y2="556.20" stroke="#000" stroke-width="1.4" stroke-linecap="butt"/>
<line x1="573.44" y1="553.60" x2="573.44" y2="556.20" stroke="#000" stroke-width="1.4" stroke-linecap="butt"/>
<line x1="584.40" y1="550.20" x2="584.40" y2="557.00" stroke="#000" stroke-width="1.8" stroke-linecap="butt"/>
<line x1="595.36" y1="553.60" x2="595.36" y2="556.20" stroke="#000" stroke-width="1.4" stroke-linecap="butt"/>
<line x1="606.32" y1="553.60" x2="606.32" y2="556.20" stroke="#000" stroke-width="1.4" stroke-linecap="butt"/>
<line x1="617.28" y1="553.60" x2="617.28" y2="556.20" stroke="#000" stroke-width="1.4" stroke-linecap="butt"/>
<line x1="628.24" y1="553.60" x2="628.24" y2="556.20" stroke="#000" stroke-width="1.4" stroke-linecap="butt"/>
<line x1="639.20" y1="550.20" x2="639.20" y2="557.00" stroke="#000" stroke-width="1.8" stroke-linecap="butt"/>
<line x1="650.16" y1="553.60" x2="650.16" y2="556.20" stroke="#000" stroke-width="1.4" stroke-linecap="butt"/>
<line x1="661.12" y1="553.60" x2="661.12" y2="556.20" stroke="#000" stroke-width="1.4" stroke-linecap="butt"/>
<line x1="672.08" y1="553.60" x2="672.08" y2="556.20" stroke="#000" stroke-width="1.4" stroke-linecap="butt"/>
<line x1="683.04" y1="553.60" x2="683.04" y2="556.20" stroke="#000" stroke-width="1.4" stroke-linecap="butt"/>
<line x1="694.00" y1="550.20" x2="694.00" y2="557.00" stroke="#000" stroke-width="1.8" stroke-linecap="butt"/>
<line x1="704.96" y1="553.60" x2="704.96" y2="556.20" stroke="#000" stroke-width="1.4" stroke-linecap="butt"/>
<line x1="715.92" y1="553.60" x2="715.92" y2="556.20" stroke="#000" stroke-width="1.4" stroke-linecap="butt"/>
<text x="26.90" y="8.30" font-size="10.30" text-anchor="end" textLength="23.3" lengthAdjust="spacingAndGlyphs">0.40</text>
<text x="26.90" y="41.25" font-size="10.30" text-anchor="end" textLength="23.3" lengthAdjust="spacingAndGlyphs">0.30</text>
<text x="26.90" y="74.20" font-size="10.30" text-anchor="end" textLength="23.3" lengthAdjust="spacingAndGlyphs">0.20</text>
<text x="26.90" y="107.15" font-size="10.30" text-anchor="end" textLength="23.3" lengthAdjust="spacingAndGlyphs">0.10</text>
<text x="26.90" y="140.10" font-size="10.30" text-anchor="end" textLength="23.3" lengthAdjust="spacingAndGlyphs">0.00</text>
<text x="26.90" y="173.05" font-size="10.30" text-anchor="end" textLength="26.6" lengthAdjust="spacingAndGlyphs">-0.10</text>
<text x="26.90" y="206.00" font-size="10.30" text-anchor="end" textLength="26.6" lengthAdjust="spacingAndGlyphs">-0.20</text>
<text x="26.90" y="238.95" font-size="10.30" text-anchor="end" textLength="26.6" lengthAdjust="spacingAndGlyphs">-0.30</text>
<text x="26.90" y="271.90" font-size="10.30" text-anchor="end" textLength="26.6" lengthAdjust="spacingAndGlyphs">-0.40</text>
<text x="37.40" y="286.70" font-size="10.30" text-anchor="middle" textLength="19.8" lengthAdjust="spacingAndGlyphs">-0.4</text>
<text x="89.48" y="286.70" font-size="10.30" text-anchor="middle" textLength="19.8" lengthAdjust="spacingAndGlyphs">-0.2</text>
<text x="141.56" y="286.70" font-size="10.30" text-anchor="middle" textLength="6.4" lengthAdjust="spacingAndGlyphs">0</text>
<text x="193.64" y="286.70" font-size="10.30" text-anchor="middle" textLength="16.0" lengthAdjust="spacingAndGlyphs">0.2</text>
<text x="245.72" y="286.70" font-size="10.30" text-anchor="middle" textLength="16.0" lengthAdjust="spacingAndGlyphs">0.4</text>
<text x="297.80" y="286.70" font-size="10.30" text-anchor="middle" textLength="16.0" lengthAdjust="spacingAndGlyphs">0.6</text>
<text x="413.70" y="18.30" font-size="9.90" text-anchor="end" textLength="29.5" lengthAdjust="spacingAndGlyphs">350.0</text>
<text x="413.70" y="54.87" font-size="9.90" text-anchor="end" textLength="29.5" lengthAdjust="spacingAndGlyphs">300.0</text>
<text x="413.70" y="91.44" font-size="9.90" text-anchor="end" textLength="29.5" lengthAdjust="spacingAndGlyphs">250.0</text>
<text x="413.70" y="128.01" font-size="9.90" text-anchor="end" textLength="29.5" lengthAdjust="spacingAndGlyphs">200.0</text>
<text x="413.70" y="164.59" font-size="9.90" text-anchor="end" textLength="29.5" lengthAdjust="spacingAndGlyphs">150.0</text>
<text x="413.70" y="201.16" font-size="9.90" text-anchor="end" textLength="29.5" lengthAdjust="spacingAndGlyphs">100.0</text>
<text x="413.70" y="237.73" font-size="9.90" text-anchor="end" textLength="23.5" lengthAdjust="spacingAndGlyphs">50.0</text>
<text x="413.70" y="274.30" font-size="9.90" text-anchor="end" textLength="17.5" lengthAdjust="spacingAndGlyphs">0.0</text>
<text x="423.70" y="288.00" font-size="9.60" text-anchor="middle" textLength="23.0" lengthAdjust="spacingAndGlyphs">75.0</text>
<text x="474.00" y="288.00" font-size="9.60" text-anchor="middle" textLength="29.0" lengthAdjust="spacingAndGlyphs">275.0</text>
<text x="524.30" y="288.00" font-size="9.60" text-anchor="middle" textLength="29.0" lengthAdjust="spacingAndGlyphs">475.0</text>
<text x="574.60" y="288.00" font-size="9.60" text-anchor="middle" textLength="29.0" lengthAdjust="spacingAndGlyphs">675.0</text>
<text x="624.90" y="288.00" font-size="9.60" text-anchor="middle" textLength="29.0" lengthAdjust="spacingAndGlyphs">875.0</text>
<text x="675.20" y="288.00" font-size="9.60" text-anchor="middle" textLength="38.0" lengthAdjust="spacingAndGlyphs">1 075.0</text>
<text x="28.90" y="306.70" font-size="9.30" text-anchor="end" textLength="23.3" lengthAdjust="spacingAndGlyphs">0.40</text>
<text x="28.90" y="337.79" font-size="9.30" text-anchor="end" textLength="23.3" lengthAdjust="spacingAndGlyphs">0.30</text>
<text x="28.90" y="368.88" font-size="9.30" text-anchor="end" textLength="23.3" lengthAdjust="spacingAndGlyphs">0.20</text>
<text x="28.90" y="399.96" font-size="9.30" text-anchor="end" textLength="23.3" lengthAdjust="spacingAndGlyphs">0.10</text>
<text x="28.90" y="431.05" font-size="9.30" text-anchor="end" textLength="23.3" lengthAdjust="spacingAndGlyphs">0.00</text>
<text x="28.90" y="462.14" font-size="9.30" text-anchor="end" textLength="27.0" lengthAdjust="spacingAndGlyphs">-0.10</text>
<text x="28.90" y="493.23" font-size="9.30" text-anchor="end" textLength="27.0" lengthAdjust="spacingAndGlyphs">-0.20</text>
<text x="28.90" y="524.31" font-size="9.30" text-anchor="end" textLength="27.0" lengthAdjust="spacingAndGlyphs">-0.30</text>
<text x="28.90" y="555.40" font-size="9.30" text-anchor="end" textLength="27.0" lengthAdjust="spacingAndGlyphs">-0.40</text>
<text x="38.70" y="568.70" font-size="9.40" text-anchor="middle" textLength="19.8" lengthAdjust="spacingAndGlyphs">-0.4</text>
<text x="94.17" y="568.70" font-size="9.40" text-anchor="middle" textLength="19.8" lengthAdjust="spacingAndGlyphs">-0.2</text>
<text x="149.64" y="568.70" font-size="9.40" text-anchor="middle" textLength="6.4" lengthAdjust="spacingAndGlyphs">0</text>
<text x="205.11" y="568.70" font-size="9.40" text-anchor="middle" textLength="16.2" lengthAdjust="spacingAndGlyphs">0.2</text>
<text x="260.58" y="568.70" font-size="9.40" text-anchor="middle" textLength="16.2" lengthAdjust="spacingAndGlyphs">0.4</text>
<text x="316.05" y="568.70" font-size="9.40" text-anchor="middle" textLength="16.2" lengthAdjust="spacingAndGlyphs">0.6</text>
<text x="409.90" y="315.40" font-size="10.00" text-anchor="end" textLength="29.0" lengthAdjust="spacingAndGlyphs">350.0</text>
<text x="409.90" y="349.93" font-size="10.00" text-anchor="end" textLength="29.0" lengthAdjust="spacingAndGlyphs">300.0</text>
<text x="409.90" y="384.46" font-size="10.00" text-anchor="end" textLength="29.0" lengthAdjust="spacingAndGlyphs">250.0</text>
<text x="409.90" y="418.99" font-size="10.00" text-anchor="end" textLength="29.0" lengthAdjust="spacingAndGlyphs">200.0</text>
<text x="409.90" y="453.51" font-size="10.00" text-anchor="end" textLength="29.0" lengthAdjust="spacingAndGlyphs">150.0</text>
<text x="409.90" y="488.04" font-size="10.00" text-anchor="end" textLength="29.0" lengthAdjust="spacingAndGlyphs">100.0</text>
<text x="409.90" y="522.57" font-size="10.00" text-anchor="end" textLength="23.2" lengthAdjust="spacingAndGlyphs">50.0</text>
<text x="409.90" y="557.10" font-size="10.00" text-anchor="end" textLength="17.3" lengthAdjust="spacingAndGlyphs">0.0</text>
<text x="420.00" y="571.00" font-size="9.00" text-anchor="middle" textLength="23.0" lengthAdjust="spacingAndGlyphs">75.0</text>
<text x="474.80" y="571.00" font-size="9.00" text-anchor="middle" textLength="29.0" lengthAdjust="spacingAndGlyphs">275.0</text>
<text x="529.60" y="571.00" font-size="9.00" text-anchor="middle" textLength="29.0" lengthAdjust="spacingAndGlyphs">475.0</text>
<text x="584.40" y="571.00" font-size="9.00" text-anchor="middle" textLength="29.0" lengthAdjust="spacingAndGlyphs">675.0</text>
<text x="639.20" y="571.00" font-size="9.00" text-anchor="middle" textLength="29.0" lengthAdjust="spacingAndGlyphs">875.0</text>
<text x="694.00" y="571.00" font-size="9.00" text-anchor="middle" textLength="38.0" lengthAdjust="spacingAndGlyphs">1 075.0</text>
<text x="256.60" y="263.60" font-size="10.40" text-anchor="start" textLength="64.0" lengthAdjust="spacingAndGlyphs">Potential (V)</text>
<text x="276.50" y="546.60" font-size="9.80" text-anchor="start" textLength="62.8" lengthAdjust="spacingAndGlyphs">Potential (V)</text>
<text x="670.60" y="263.40" font-size="10.00" text-anchor="start" textLength="28.2" lengthAdjust="spacingAndGlyphs">Z' (Ω)</text>
<text x="692.30" y="548.90" font-size="10.00" text-anchor="start" textLength="27.2" lengthAdjust="spacingAndGlyphs">Z' (Ω)</text>
<text transform="translate(49.9,74.3) rotate(-90)" font-size="10.3" textLength="68.2" lengthAdjust="spacingAndGlyphs">Current (mA)</text>
<text transform="translate(51.7,373.3) rotate(-90)" font-size="10.6" textLength="66.9" lengthAdjust="spacingAndGlyphs">Current (mA)</text>
<text transform="translate(435.8,50.0) rotate(-90)" font-size="9.7" textLength="34.2" lengthAdjust="spacingAndGlyphs">-Z'' (Ω)</text>
<text transform="translate(430.8,347.8) rotate(-90)" font-size="10.5" textLength="34.8" lengthAdjust="spacingAndGlyphs">-Z'' (Ω)</text>
<line x1="60.90" y1="12.70" x2="80.00" y2="12.70" stroke="#F0B41C" stroke-width="2.2" stroke-dasharray="6.8 5.2" stroke-linecap="butt"/>
<text x="86.60" y="15.70" font-size="10.20" text-anchor="start" textLength="23.4" lengthAdjust="spacingAndGlyphs">Bare</text>
<line x1="115.20" y1="12.70" x2="138.80" y2="12.70" stroke="#B3191B" stroke-width="2.2" stroke-dasharray="6.9 5 1.9 5.2" stroke-linecap="butt"/>
<text x="141.40" y="15.70" font-size="10.20" text-anchor="start" textLength="19.8" lengthAdjust="spacingAndGlyphs">MIP</text>
<line x1="165.90" y1="12.70" x2="189.00" y2="12.70" stroke="#50D2C4" stroke-width="2.2" stroke-linecap="butt"/>
<text x="192.00" y="15.70" font-size="10.20" text-anchor="start" textLength="142.6" lengthAdjust="spacingAndGlyphs">MIP after template removal</text>
<line x1="444.90" y1="18.80" x2="464.00" y2="18.80" stroke="#F0B41C" stroke-width="2.2" stroke-dasharray="7.2 4.9" stroke-linecap="butt"/>
<text x="470.60" y="22.00" font-size="10.20" text-anchor="start" textLength="22.7" lengthAdjust="spacingAndGlyphs">Bare</text>
<line x1="502.00" y1="18.80" x2="525.50" y2="18.80" stroke="#B3191B" stroke-width="2.2" stroke-dasharray="6 5.7 1.6 5.7" stroke-linecap="butt"/>
<text x="527.20" y="22.00" font-size="10.20" text-anchor="start" textLength="19.8" lengthAdjust="spacingAndGlyphs">MIP</text>
<line x1="555.00" y1="18.80" x2="578.00" y2="18.80" stroke="#50D2C4" stroke-width="2.2" stroke-linecap="butt"/>
<text x="580.50" y="22.20" font-size="10.00" text-anchor="start" textLength="138.8" lengthAdjust="spacingAndGlyphs">MIP after template removal</text>
<line x1="63.00" y1="308.30" x2="86.00" y2="308.30" stroke="#1C9A98" stroke-width="2.2" stroke-dasharray="7.6 7.3" stroke-linecap="butt"/>
<text x="88.80" y="311.80" font-size="9.60" text-anchor="start" textLength="15.7" lengthAdjust="spacingAndGlyphs">NIP</text>
<line x1="63.00" y1="322.80" x2="86.00" y2="322.80" stroke="#3DC3F4" stroke-width="2.2" stroke-linecap="butt"/>
<text x="88.80" y="326.20" font-size="9.60" text-anchor="start" textLength="122.0" lengthAdjust="spacingAndGlyphs">NIP after template removal</text>
<line x1="221.90" y1="309.50" x2="238.00" y2="309.50" stroke="#7030A0" stroke-width="2.2" stroke-dasharray="7.5 6.9 1.7 20" stroke-linecap="butt"/>
<text x="247.60" y="312.30" font-size="9.60" text-anchor="start" textLength="17.6" lengthAdjust="spacingAndGlyphs">MIP</text>
<line x1="221.20" y1="322.60" x2="244.60" y2="322.60" stroke="#C8107C" stroke-width="2.2" stroke-linecap="butt"/>
<text x="246.90" y="326.20" font-size="9.60" text-anchor="start" textLength="124.4" lengthAdjust="spacingAndGlyphs">MIP after template removal</text>
<line x1="439.20" y1="309.50" x2="461.70" y2="309.50" stroke="#1C9A98" stroke-width="2.2" stroke-dasharray="7.3 7.6" stroke-linecap="butt"/>
<text x="464.20" y="312.90" font-size="9.60" text-anchor="start" textLength="15.3" lengthAdjust="spacingAndGlyphs">NIP</text>
<line x1="439.20" y1="323.20" x2="462.10" y2="323.20" stroke="#3DC3F4" stroke-width="2.2" stroke-linecap="butt"/>
<text x="464.20" y="327.00" font-size="9.60" text-anchor="start" textLength="119.2" lengthAdjust="spacingAndGlyphs">NIP after template removal</text>
<line x1="595.70" y1="310.20" x2="618.50" y2="310.20" stroke="#7030A0" stroke-width="2.2" stroke-dasharray="6.9 6.1 1.7 5.1" stroke-linecap="butt"/>
<text x="620.40" y="313.30" font-size="9.60" text-anchor="start" textLength="17.1" lengthAdjust="spacingAndGlyphs">MIP</text>
<line x1="595.70" y1="323.90" x2="618.50" y2="323.90" stroke="#C8107C" stroke-width="2.2" stroke-linecap="butt"/>
<text x="620.40" y="327.20" font-size="9.60" text-anchor="start" textLength="122.4" lengthAdjust="spacingAndGlyphs">MIP after template removal</text>
<ellipse cx="310.0" cy="34.6" rx="26.8" ry="12.8" fill="#F1F9F6" stroke="#A7D0C4" stroke-width="1.3"/>
<text x="304.90" y="40.50" font-size="15.00" text-anchor="start" textLength="9.8" lengthAdjust="spacingAndGlyphs">A</text>
<ellipse cx="683.0" cy="43.4" rx="26.8" ry="12.8" fill="#F1F9F6" stroke="#A7D0C4" stroke-width="1.3"/>
<text x="673.80" y="49.00" font-size="14.60" text-anchor="start" textLength="18.8" lengthAdjust="spacingAndGlyphs">A1</text>
<ellipse cx="305.7" cy="344.2" rx="26.6" ry="12.8" fill="#F1F9F6" stroke="#A7D0C4" stroke-width="1.3"/>
<text x="300.60" y="349.40" font-size="14.20" text-anchor="start" textLength="10.2" lengthAdjust="spacingAndGlyphs">B</text>
<ellipse cx="685.4" cy="345.5" rx="26.6" ry="12.8" fill="#F1F9F6" stroke="#A7D0C4" stroke-width="1.3"/>
<text x="676.00" y="351.30" font-size="16.20" text-anchor="start" textLength="18.6" lengthAdjust="spacingAndGlyphs">B1</text>
</svg></body></html>
